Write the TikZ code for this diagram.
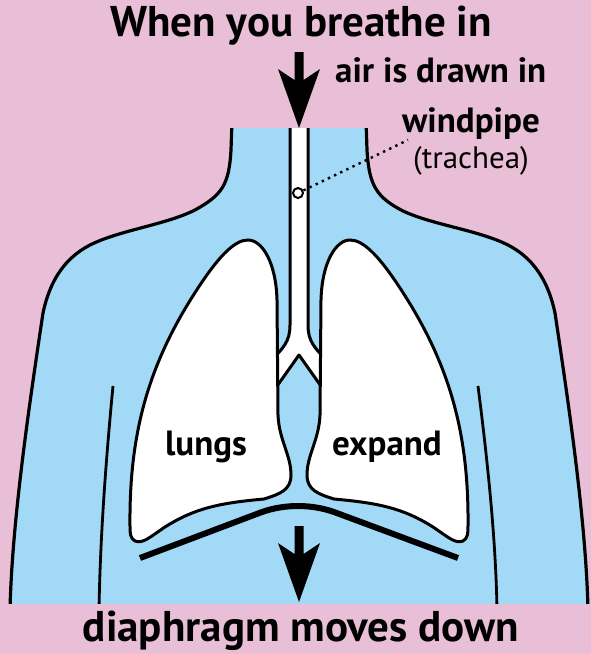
\documentclass[tikz,border=0pt]{standalone}
\usepackage{fontspec}
\setmainfont{PT Sans}

\definecolor{pinkbg}{RGB}{233,191,215}
\definecolor{bodyblue}{RGB}{162,217,246}

\tikzset{
  outline/.style={line width=3.2pt, line join=round},
  armline/.style={line width=2.8pt},
  bigtext/.style={font=\fontsize{43}{50}\selectfont\bfseries, inner sep=0pt},
  labeltext/.style={font=\fontsize{35}{40}\selectfont\bfseries, inner sep=0pt},
  smalltext/.style={font=\fontsize{31}{36}\selectfont, inner sep=0pt},
  dots/.style={line width=2.4pt, dash pattern=on 2.4pt off 4.4pt},
  % block arrow, drawn down from the top of its shaft
  pics/bigarrow/.style={code={
    \fill (-4.5,0) -- (4.5,0) -- (4.5,28) -- (21,17) -- (0,76) -- (-21,17) -- (-4.5,28) -- cycle;
  }},
  % one lung, measured from the middle of the chest; #1=1 left, #1=-1 right
  pics/lung/.style={code={
    \begin{scope}[xscale=#1]
    \filldraw[fill=white, outline, line width=3pt]
      (-51,240) .. controls (-37,240) and (-23,262) .. (-22,300)
      -- (-21,415) .. controls (-20,440) and (-8,455) .. (-8,475)
      .. controls (-8,490) and (-19,494) .. (-35,499)
      .. controls (-79,503) and (-104,508) .. (-134,527)
      .. controls (-149,537) and (-156,544) .. (-164,541)
      .. controls (-169,538) and (-169,533) .. (-169,526)
      .. controls (-170,430) and (-149,360) .. (-99,285)
      .. controls (-79,255) and (-64,240) .. (-51,240) -- cycle;
    \end{scope}
  }},
}

\begin{document}
\begin{tikzpicture}[x=1pt, y=-1pt]
  \useasboundingbox (0,0) rectangle (591,654);
  \fill[pinkbg] (0,0) rectangle (591,654);

  % body and windpipe, cut off at the neck and at the waist
  \begin{scope}
    \clip (0,128) rectangle (591,603);
    \filldraw[fill=bodyblue, outline]
      (232,120) -- (231,150) .. controls (229,185) and (222,195) .. (195,210)
      .. controls (165,225) and (120,230) .. (90,245)
      .. controls (65,258) and (50,280) .. (43,313)
      .. controls (30,400) and (12,520) .. (10,610)
      -- (588,610) .. controls (586,520) and (568,400) .. (555,313)
      .. controls (548,280) and (533,258) .. (508,245)
      .. controls (478,230) and (433,225) .. (403,211)
      .. controls (376,197) and (369,185) .. (367,150) -- (366,120) -- cycle;
    \filldraw[fill=white, outline, line width=3pt]
      (290,120) -- (290,325) .. controls (290,342) and (283,348) .. (270,362)
      -- (270,396) -- (299,355) -- (328,396) -- (328,362)
      .. controls (315,348) and (308,342) .. (308,325) -- (308,120) -- cycle;
    % arms
    \draw[armline] (113,386) .. controls (104,480) and (100,550) .. (99,610);
    \draw[armline] (478,386) .. controls (490,480) and (496,550) .. (497,610);
  \end{scope}

  \pic at (299,0) {lung=1};
  \pic at (299,0) {lung=-1};

  % diaphragm
  \draw[line width=6pt, line join=round] (140,558) -- (262,512)
    .. controls (285,504) and (311,504) .. (334,512) -- (458,558);

  \pic at (299,52) {bigarrow};
  \pic at (299,526) {bigarrow};

  \node (ring) [circle, draw, fill=white, line width=2pt, minimum size=10pt, inner sep=0pt] at (298,193) {};
  \coordinate (wpend) at (408,140);
  \draw[dots] (ring) -- (wpend);

  \node (title) [bigtext, anchor=base] at (301,36) {When you breathe in};
  \node (air) [labeltext, anchor=base west] at (335,82) {air is drawn in};
  \node (wp) [labeltext, anchor=base] at (471,132) {windpipe};
  \node (trachea) [smalltext, anchor=base] at (471,168) {(trachea)};
  \node (lungs) [labeltext, anchor=base] at (206,455) {lungs};
  \node (expand) [labeltext, anchor=base] at (387,455) {expand};
  \node (diaphragm) [bigtext, anchor=base] at (301,641) {diaphragm moves down};
\end{tikzpicture}
\end{document}
